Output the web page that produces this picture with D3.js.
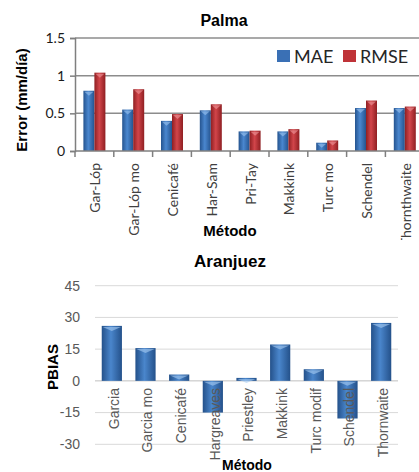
<!DOCTYPE html>
<html lang="en">
<head>
<meta charset="UTF-8">
<title>Palma / Aranjuez</title>
<script src="https://d3js.org/d3.v7.min.js"></script>
<style>
  body { margin: 0; background: #fff; }
  svg { display: block; }
</style>
</head>
<body>
<div id="palma"></div>
<div id="aranjuez"></div>
<script>
// Palma: MAE / RMSE per method
var palmaMetodos = ["Gar-Lóp", "Gar-Lóp mo", "Cenicafé", "Har-Sam", "Pri-Tay", "Makkink", "Turc mo", "Schendel", "Thornthwaite"];
var palmaMAE  = [0.80, 0.55, 0.40, 0.54, 0.26, 0.26, 0.11, 0.57, 0.57];
var palmaRMSE = [1.04, 0.82, 0.49, 0.62, 0.27, 0.29, 0.14, 0.67, 0.59];
var palmaTicks = [0, 0.5, 1, 1.5];
var palmaSeries = ["MAE", "RMSE"];

// Aranjuez: PBIAS per method
var aranMetodos = ["Garcia", "Garcia mo", "Cenicafé", "Hargreaves", "Priestley", "Makkink", "Turc modif", "Schendel", "Thornwaite"];
var aranPBIAS = [26, 15.5, 3, -15, 1.4, 17.2, 5.5, -17.8, 27.4];
var aranTicks = [-30, -15, 0, 15, 30, 45];

var W = 419;

function hgrad(defs, id, dark, light) {
  var g = defs.append("linearGradient").attr("id", id)
    .attr("x1", "0%").attr("x2", "100%").attr("y1", "0%").attr("y2", "0%");
  g.append("stop").attr("offset", "0%").attr("stop-color", dark);
  g.append("stop").attr("offset", "45%").attr("stop-color", light);
  g.append("stop").attr("offset", "100%").attr("stop-color", dark);
}
// little lighter bevel at the bar end, like the office 3D bars
function bevel(sel, x, w, yEnd, dir, color) {
  sel.append("path")
    .attr("d", function(d, i){
      var a = x(d, i), b = a + w, ye = yEnd(d, i);
      return "M" + a + "," + ye + "L" + b + "," + ye + "L" + (a + w / 2) + "," + (ye + dir * 4) + "Z";
    })
    .attr("fill", color).attr("opacity", 0.6);
}

// ---------- top chart ----------
var svg1 = d3.select("#palma").append("svg").attr("width", W).attr("height", 240);
var defs1 = svg1.append("defs");
hgrad(defs1, "gMAE", "#25548f", "#4a87cf");
hgrad(defs1, "gRMSE", "#8f1f22", "#d2454a");
var fills = { MAE: "url(#gMAE)", RMSE: "url(#gRMSE)" };
var legendFill = { MAE: "#3a70b5", RMSE: "#bf3338" };
var bevelFill = { MAE: "#9cc4f0", RMSE: "#f09a9c" };

var x0 = d3.scaleBand().domain(palmaMetodos).range([75, 75 + 9 * 38.8]).padding(0);
var x1 = d3.scaleBand().domain(palmaSeries).range([0, 22]);
var y1 = d3.scaleLinear().domain([0, 1.5]).range([151, 38]);

svg1.append("text").attr("x", 224).attr("y", 26).attr("text-anchor", "middle")
  .style("font", "bold 16px 'Liberation Sans', Arial, sans-serif").text("Palma");

// gridlines
svg1.append("g").selectAll("line").data(palmaTicks.filter(function(d){ return d > 0; }))
  .enter().append("line")
  .attr("x1", 75).attr("x2", W).attr("y1", function(d){ return y1(d); }).attr("y2", function(d){ return y1(d); })
  .attr("stroke", "#8c8c8c").attr("stroke-width", 1.5);

// y axis
var yAx1 = svg1.append("g").attr("transform", "translate(75,0)")
  .call(d3.axisLeft(y1).tickValues(palmaTicks).tickFormat(d3.format("")).tickSize(5).tickPadding(5));
yAx1.select(".domain").attr("stroke", "#7f7f7f").attr("stroke-width", 1.5);
yAx1.selectAll(".tick line").attr("stroke", "#7f7f7f").attr("stroke-width", 1.5);
yAx1.selectAll("text").style("font", "14px Lato, 'Open Sans', sans-serif").attr("fill", "#1a1a1a");

// bars
var groups = svg1.append("g").selectAll("g").data(palmaMetodos).enter().append("g")
  .attr("transform", function(d){ return "translate(" + (x0(d) + (x0.bandwidth() - 22) / 2) + ",0)"; });
var pairs = groups.selectAll("g").data(function(d, i){
    return [{ k: "MAE", v: palmaMAE[i] }, { k: "RMSE", v: palmaRMSE[i] }];
  }).enter().append("g");
pairs.append("rect")
  .attr("x", function(d){ return x1(d.k); })
  .attr("width", x1.bandwidth())
  .attr("y", function(d){ return y1(d.v); })
  .attr("height", function(d){ return y1(0) - y1(d.v); })
  .attr("fill", function(d){ return fills[d.k]; });
pairs.each(function(d){
  bevel(d3.select(this), function(){ return x1(d.k) + 1; }, x1.bandwidth() - 2,
        function(){ return y1(d.v) + 1; }, 1, bevelFill[d.k]);
});

// x axis
var xAx1 = svg1.append("g").attr("transform", "translate(0,151)");
xAx1.append("line").attr("x1", 75).attr("x2", W).attr("stroke", "#7f7f7f").attr("stroke-width", 1.5);
xAx1.selectAll("line.tk").data(palmaMetodos).enter().append("line").attr("class", "tk")
  .attr("x1", function(d){ return x0(d); }).attr("x2", function(d){ return x0(d); })
  .attr("y1", 0).attr("y2", 6).attr("stroke", "#7f7f7f").attr("stroke-width", 1.5);
xAx1.selectAll("text").data(palmaMetodos).enter().append("text")
  .attr("transform", function(d){ return "translate(" + (x0(d) + x0.bandwidth() / 2 + 1) + ",12) rotate(-90)"; })
  .attr("text-anchor", "end").attr("dy", "0.35em")
  .style("font", "14px Lato, 'Open Sans', sans-serif").attr("fill", "#404040")
  .text(function(d){ return d; });

svg1.append("text").attr("x", 230).attr("y", 236).attr("text-anchor", "middle")
  .style("font", "bold 15px 'Liberation Sans', Arial, sans-serif").text("Método");
svg1.append("text").attr("transform", "translate(27,100) rotate(-90)").attr("text-anchor", "middle")
  .style("font", "bold 15px 'Liberation Sans', Arial, sans-serif").text("Error (mm/día)");

// legend
var leg = svg1.append("g");
var legX = [277, 343];
palmaSeries.forEach(function(s, i){
  leg.append("rect").attr("x", legX[i]).attr("y", 50).attr("width", 13).attr("height", 12)
    .attr("fill", legendFill[s]);
  leg.append("text").attr("x", legX[i] + 17).attr("y", 63)
    .style("font", "18px Lato, 'Open Sans', sans-serif").attr("fill", "#262626").text(s);
});

// ---------- bottom chart ----------
var svg2 = d3.select("#aranjuez").append("svg").attr("width", W).attr("height", 232);
var defs2 = svg2.append("defs");
hgrad(defs2, "gPB", "#24518a", "#4a86cc");
var g2 = svg2.append("g").attr("transform", "translate(0,-240)"); // page coordinates

var xb = d3.scaleBand().domain(aranMetodos).range([95, 398]).paddingInner(0.4).paddingOuter(0.2);
var yb = d3.scaleLinear().domain([-30, 45]).range([444.3, 285.7]);

g2.append("text").attr("x", 230).attr("y", 267).attr("text-anchor", "middle")
  .style("font", "bold 17px 'Liberation Sans', Arial, sans-serif").text("Aranjuez");

g2.append("g").selectAll("line").data(aranTicks).enter().append("line")
  .attr("x1", 95).attr("x2", 398).attr("y1", function(d){ return yb(d); }).attr("y2", function(d){ return yb(d); })
  .attr("stroke", function(d){ return d === 0 ? "#bfbfbf" : "#d9d9d9"; }).attr("stroke-width", 1);

g2.append("g").selectAll("text").data(aranTicks).enter().append("text")
  .attr("x", 80).attr("y", function(d){ return yb(d); }).attr("dy", "0.35em").attr("text-anchor", "end")
  .style("font", "14px 'Liberation Sans', Arial, sans-serif").attr("fill", "#595959")
  .text(function(d){ return d; });

var bars2 = g2.append("g").selectAll("g").data(aranMetodos).enter().append("g");
bars2.append("rect")
  .attr("x", function(d){ return xb(d); }).attr("width", xb.bandwidth())
  .attr("y", function(d, i){ return yb(Math.max(0, aranPBIAS[i])); })
  .attr("height", function(d, i){ return Math.abs(yb(aranPBIAS[i]) - yb(0)); })
  .attr("fill", "url(#gPB)");
bevel(bars2, function(d){ return xb(d) + 1; }, xb.bandwidth() - 2,
      function(d, i){ return aranPBIAS[i] >= 0 ? yb(aranPBIAS[i]) + 1 : yb(0) + 1; }, 1, "#a9cdf3");

g2.append("g").selectAll("text").data(aranMetodos).enter().append("text")
  .attr("transform", function(d){ return "translate(" + (xb(d) + xb.bandwidth() / 2 + 2) + ",388) rotate(-90)"; })
  .attr("text-anchor", "end").attr("dy", "0.35em")
  .style("font", "14px 'Liberation Sans', Arial, sans-serif").attr("fill", "#595959")
  .text(function(d){ return d; });

g2.append("text").attr("x", 247).attr("y", 470).attr("text-anchor", "middle")
  .style("font", "bold 14px 'Liberation Sans', Arial, sans-serif").text("Método");
g2.append("text").attr("transform", "translate(58,367) rotate(-90)").attr("text-anchor", "middle")
  .style("font", "bold 15px 'Liberation Sans', Arial, sans-serif").text("PBIAS");
</script>
</body>
</html>
